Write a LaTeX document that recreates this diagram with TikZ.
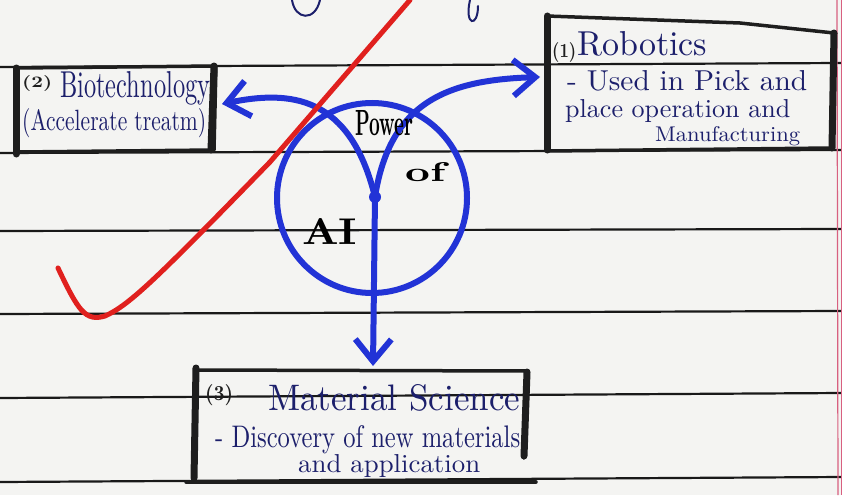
\documentclass[tikz,border=0pt]{standalone}
\usepackage{graphicx}
\usetikzlibrary{arrows.meta}
\definecolor{ink}{HTML}{1C1F6B}
\definecolor{pen}{HTML}{2233D6}
\definecolor{redpen}{HTML}{E0201E}
\definecolor{boxc}{HTML}{1E1E1E}
\definecolor{paper}{HTML}{F4F4F2}
\definecolor{marginc}{HTML}{D86080}
\newcommand{\hwtext}[3]{\resizebox{#1pt}{#2pt}{#3}}
\begin{document}
\begin{tikzpicture}[x=1pt,y=-1pt,
 rule/.style={line width=2.2pt, black!90},
 boxedge/.style={boxc, line width=3.5pt, line cap=round, line join=round},
 boxbar/.style={boxc, line width=7pt, line cap=round},
 blueline/.style={pen, line width=6pt, line cap=round},
 bluearrow/.style={blueline, -{Straight Barb[length=22pt,width=36pt]}},
 txt/.style={text=ink, inner sep=0pt, anchor=base west},
 num/.style={text=boxc, inner sep=0pt, anchor=base west, font=\bfseries},
 dark/.style={text=black, inner sep=0pt, anchor=base west, font=\bfseries},
 redline/.style={redpen, line width=5pt, line cap=round, line join=round},
 scrawl/.style={ink, line width=2pt, line cap=round}
]
\fill[paper] (0,0) rectangle (842,495);
\useasboundingbox (0,0) rectangle (842,495);

% ruled notebook lines
\foreach \a/\b in {67/63,153/150,231/229,314/311,398/393,482/477}
  \draw[rule] (0,\a) -- (842,\b);
% margin line
\draw[marginc, line width=1.2pt] (837,0) -- (838,495);
\draw[marginc, line width=0.8pt] (841,0) -- (841,495);

% fragments of handwriting above
\draw[scrawl] (292,0) .. controls (295,20) and (315,22) .. (320,0);
\draw[scrawl] (470,0) .. controls (464,26) and (478,28) .. (478,6);

% boxes
\draw[boxedge] (18,68) -- (216,66) -- (214,150) -- (18,152) -- cycle;
\draw[boxbar] (16,68) -- (16,154);
\draw[boxbar] (214,66) -- (211,150);

\draw[boxedge] (547,16) -- (740,23) -- (834,33) -- (832,148) -- (548,151) -- cycle;
\draw[boxbar] (547,16) -- (547,150);
\draw[boxbar] (834,33) -- (832,148);

\draw[boxedge] (196,370) -- (527,371) -- (524,458);
\draw[boxedge] (186,482) -- (536,482);
\draw[boxbar] (196,368) -- (194,478);
\draw[boxbar] (527,372) -- (524,456);

% box texts
\node[num] (n2) at (22,88) {\hwtext{30}{12}{(2)}};
\node[txt] (bioT) at (60,97) {\hwtext{150}{26}{Biotechnology}};
\node[txt] (bioS) at (22,130) {\hwtext{184}{22}{(Accelerate treatm)}};

\node[num] (n1) at (552,57) {\hwtext{24}{15}{(1)}};
\node[txt] (robT) at (577,55) {\hwtext{130}{24}{Robotics}};
\node[txt] (robA) at (567,90) {\hwtext{240}{20}{- Used in Pick and}};
\node[txt] (robB) at (565,117) {\hwtext{225}{18}{place operation and}};
\node[txt] (robC) at (655,141) {\hwtext{145}{15}{Manufacturing}};

\node[num] (n3) at (205,400) {\hwtext{28}{16}{(3)}};
\node[txt] (matT) at (268,410) {\hwtext{252}{26}{Material Science}};
\node[txt] (matA) at (215,447) {\hwtext{305}{22}{- Discovery of new materials}};
\node[txt] (matB) at (298,472) {\hwtext{182}{18}{and application}};

% center: power of AI
\node[circle, draw=pen, line width=6pt, minimum size=190pt, inner sep=0pt] (ring) at (372,198) {};
\coordinate (J) at (375,197);
\coordinate (bioIn) at (222,104);
\coordinate (robIn) at (540,77);
\coordinate (matIn) at (373,366);
\draw[bluearrow] (J) .. controls (350,95) and (290,90) .. (bioIn);
\draw[bluearrow] (J) .. controls (390,100) and (450,80) .. (robIn);
\draw[bluearrow] (J) -- (matIn);
\fill[pen] (J) circle[radius=6pt];

\node[dark] (pw) at (355,135) {\hwtext{58}{25}{Power}};
\node[dark] (of) at (405,181) {\hwtext{40}{19}{of}};
\node[dark] (ai) at (302,244) {\hwtext{55}{26}{AI}};

% red tick
\draw[redline] (58,268) .. controls (78,310) and (85,322) .. (105,316)
  .. controls (130,305) and (160,275) .. (270,162) -- (410,0);
\end{tikzpicture}
\end{document}
